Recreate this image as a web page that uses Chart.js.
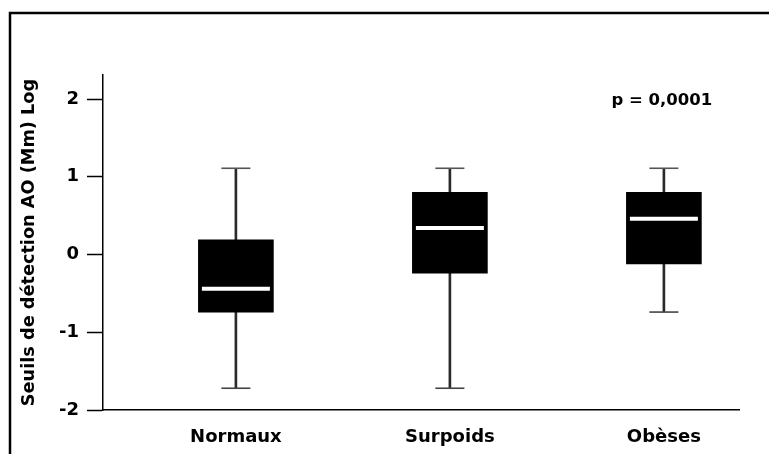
<!DOCTYPE html>
<html>
<head>
<meta charset="utf-8">
<script src="https://cdn.jsdelivr.net/npm/chart.js@4/dist/chart.umd.min.js"></script>
<style>
  html, body { margin: 0; padding: 0; background: #fff; }
  canvas { display: block; }
</style>
</head>
<body>
<canvas id="c" width="769" height="454"></canvas>
<script>
// Groups and their box-plot summaries (log scale)
const categories  = ['Normaux', 'Surpoids', 'Obèses'];
const whiskerLow  = [-1.72, -1.72, -0.74];
const q1          = [-0.74, -0.24, -0.12];
const medians     = [-0.44,  0.34,  0.46];
const q3          = [ 0.19,  0.80,  0.80];
const whiskerHigh = [ 1.11,  1.11,  1.11];
const yTicks      = [-2, -1, 0, 1, 2];
const yTitle      = 'Seuils de détection AO (Mm) Log';
const pValueText  = 'p = 0,0001';

const FONT = '"DejaVu Sans", "Liberation Sans", Arial, sans-serif';
Chart.defaults.font.family = FONT;
Chart.defaults.font.weight = 'bold';
Chart.defaults.color = '#000';

const idx = categories.map((_, i) => i);

// white page, plus the frame lines along the left and top edges
const framePlugin = {
  id: 'frame',
  beforeDraw(chart) {
    const ctx = chart.ctx;
    ctx.save();
    ctx.fillStyle = '#fff';
    ctx.fillRect(0, 0, chart.width, chart.height);
    ctx.strokeStyle = '#000';
    ctx.lineWidth = 2.5;
    ctx.beginPath();
    ctx.moveTo(10, chart.height);
    ctx.lineTo(10, 13);
    ctx.lineTo(chart.width, 13);
    ctx.stroke();
    ctx.restore();
  }
};

// p-value note near the top right of the plot
const pValuePlugin = {
  id: 'pvalue',
  afterDraw(chart) {
    const { ctx, scales: { x, y } } = chart;
    ctx.save();
    ctx.font = 'bold 16.5px ' + FONT;
    ctx.fillStyle = '#000';
    ctx.textAlign = 'center';
    ctx.textBaseline = 'middle';
    ctx.fillText(pValueText, x.getPixelForValue(categories.length - 1) - 2, y.getPixelForValue(yTicks[yTicks.length - 1]) + 2);
    ctx.restore();
  }
};

new Chart(document.getElementById('c'), {
  type: 'bar',
  data: {
    datasets: [
      {
        // whisker stems
        type: 'bar',
        data: idx.map(i => ({ x: i, y: [whiskerLow[i], whiskerHigh[i]] })),
        backgroundColor: '#2a2a2a',
        barThickness: 2,
        grouped: false,
        order: 3
      },
      {
        // interquartile boxes
        type: 'bar',
        data: idx.map(i => ({ x: i, y: [q1[i], q3[i]] })),
        backgroundColor: '#000',
        barThickness: 75,
        grouped: false,
        order: 2
      },
      {
        // whisker caps (top)
        type: 'scatter',
        data: idx.map(i => ({ x: i, y: whiskerHigh[i] })),
        pointStyle: 'line',
        radius: 14.5,
        borderWidth: 1.6,
        borderColor: '#555',
        order: 1
      },
      {
        // whisker caps (bottom)
        type: 'scatter',
        data: idx.map(i => ({ x: i, y: whiskerLow[i] })),
        pointStyle: 'line',
        radius: 14.5,
        borderWidth: 1.6,
        borderColor: '#444',
        order: 1
      },
      {
        // medians
        type: 'scatter',
        data: idx.map(i => ({ x: i, y: medians[i] })),
        pointStyle: 'line',
        radius: 34,
        borderWidth: 4,
        borderColor: '#fff',
        order: 0
      }
    ]
  },
  options: {
    responsive: false,
    devicePixelRatio: 1,
    animation: false,
    events: [],
    layout: { autoPadding: false, padding: { left: 0, top: 75, right: 30, bottom: 0 } },
    plugins: {
      legend: { display: false },
      tooltip: { enabled: false }
    },
    scales: {
      x: {
        type: 'linear',
        offset: false,
        bounds: 'data',
        grace: 0,
        min: -0.621,
        max: 2.351,
        grid: { display: false },
        border: { display: true, color: '#000', width: 1.5 },
        // blank ticks at both ends keep the edge labels from reserving space
        afterBuildTicks(scale) {
          scale.ticks = [scale.min, ...idx, scale.max].map(v => ({ value: v }));
        },
        afterFit(scale) { scale.height = 44; },
        ticks: {
          padding: 9,
          autoSkip: false,
          maxRotation: 0,
          font: { size: 18, weight: 'bold' },
          color: '#000',
          callback: v => categories[v] ?? ''
        }
      },
      y: {
        type: 'linear',
        min: -2,
        max: 2.31,
        afterBuildTicks(scale) { scale.ticks = yTicks.map(v => ({ value: v })); },
        afterFit(scale) { scale.width = 103; },
        grid: {
          display: true,
          drawOnChartArea: false,
          drawTicks: true,
          tickLength: 16,
          tickWidth: 1.5,
          tickColor: '#000'
        },
        border: { display: true, color: '#000', width: 1.5 },
        ticks: {
          padding: 8,
          font: { size: 18, weight: 'bold' },
          color: '#000',
          callback: v => String(v)
        },
        title: {
          display: true,
          text: yTitle,
          font: { size: 17.7, weight: 'bold' },
          color: '#000',
          padding: { top: 19, bottom: 0 }
        }
      }
    }
  },
  plugins: [framePlugin, pValuePlugin]
});
</script>
</body>
</html>
